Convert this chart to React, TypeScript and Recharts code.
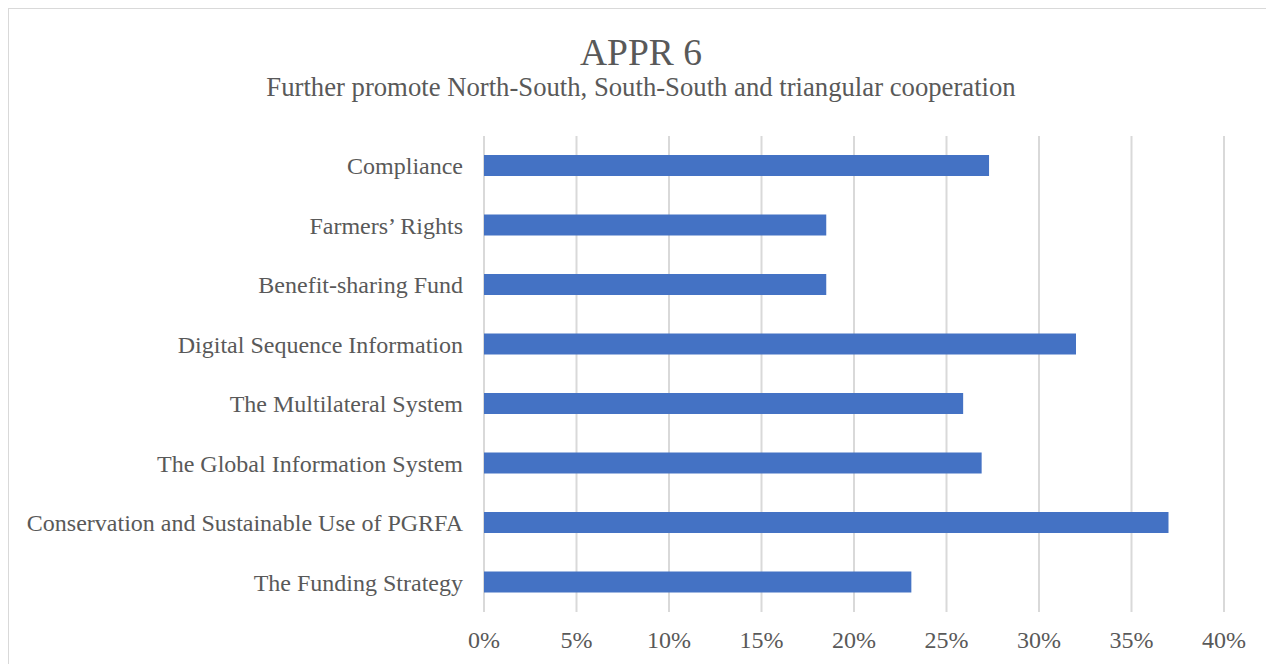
import React from "react";
import { BarChart, Bar, XAxis, YAxis, CartesianGrid } from "recharts";

const categories = [
  "Compliance",
  "Farmers’ Rights",
  "Benefit-sharing Fund",
  "Digital Sequence Information",
  "The Multilateral System",
  "The Global Information System",
  "Conservation and Sustainable Use of PGRFA",
  "The Funding Strategy",
];
const shares = [27.3, 18.5, 18.5, 32.0, 25.9, 26.9, 37.0, 23.1];
const xTicks = [0, 5, 10, 15, 20, 25, 30, 35, 40];

const data = categories.map((name, i) => ({ name, value: shares[i] }));

const font = '"Liberation Serif", "Times New Roman", serif';
const textColor = "#595959";

const App = () => {
  return (
    <div
      style={{
        position: "relative",
        width: 1264,
        height: 660,
        border: "1px solid #d9d9d9",
        background: "#fff",
        fontFamily: font,
        color: textColor,
      }}
    >
      <div
        style={{
          position: "absolute",
          top: 25,
          left: 0,
          width: 1264,
          textAlign: "center",
          fontSize: 37.5,
          lineHeight: 1,
        }}
      >
        APPR 6
      </div>
      <div
        style={{
          position: "absolute",
          top: 65,
          left: 0,
          width: 1264,
          textAlign: "center",
          fontSize: 26.7,
          lineHeight: 1,
        }}
      >
        Further promote North-South, South-South and triangular cooperation
      </div>
      <BarChart
        width={1264}
        height={655}
        data={data}
        layout="vertical"
        margin={{ top: 127, right: 49, left: 0, bottom: 0 }}
      >
        <CartesianGrid horizontal={false} stroke="#d9d9d9" strokeWidth={2} />
        <XAxis
          type="number"
          domain={[0, 40]}
          ticks={xTicks}
          tickFormatter={(v) => `${v}%`}
          axisLine={false}
          tickLine={false}
          tickSize={0}
          tickMargin={19}
          height={52}
          interval={0}
          tick={{ fill: textColor, fontSize: 24, fontFamily: font }}
        />
        <YAxis
          type="category"
          dataKey="name"
          width={475}
          axisLine={false}
          tickLine={false}
          tickSize={0}
          tickMargin={21}
          interval={0}
          tick={{ fill: textColor, fontSize: 24, fontFamily: font }}
        />
        <Bar dataKey="value" fill="#4472C4" barSize={21} isAnimationActive={false} />
      </BarChart>
    </div>
  );
};

export default App;
